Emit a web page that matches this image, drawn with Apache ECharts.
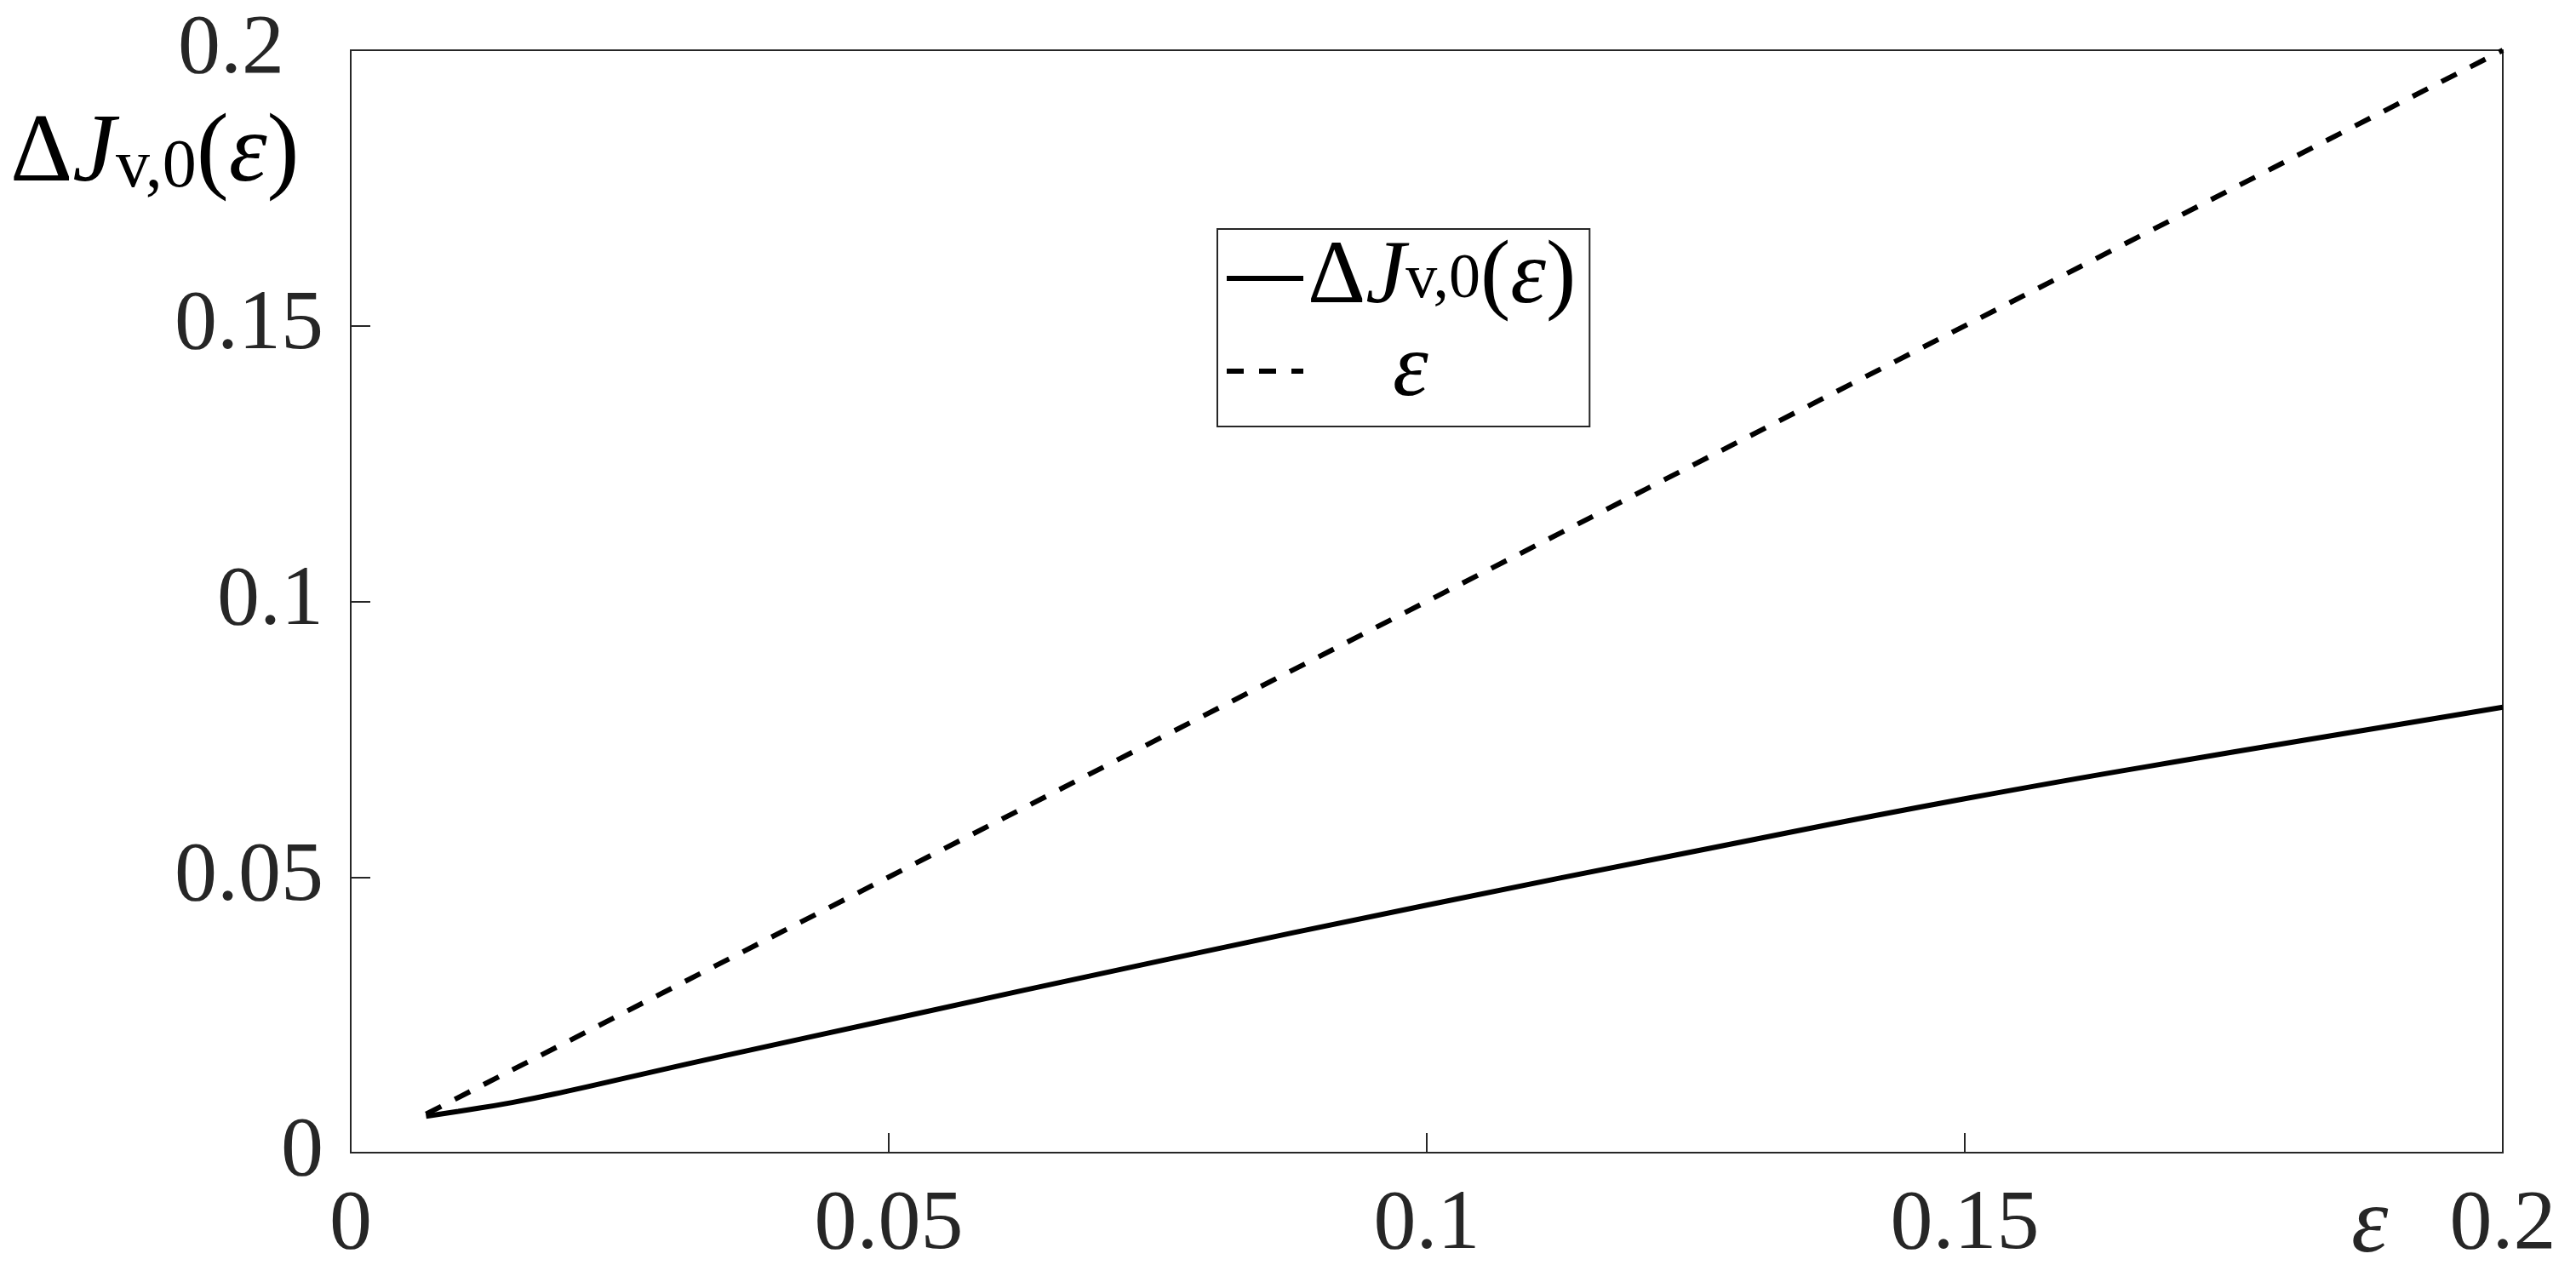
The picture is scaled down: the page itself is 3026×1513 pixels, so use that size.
<!DOCTYPE html>
<html>
<head>
<meta charset="utf-8">
<style>
  html, body { margin: 0; padding: 0; background: #fff; }
  #main { width: 3026px; height: 1513px; }
</style>
<script src="https://cdn.jsdelivr.net/npm/echarts@6/dist/echarts.min.js"></script>
</head>
<body>
<div id="main"></div>
<script>
// values
const epsValues = [0.007, 0.01, 0.015, 0.02, 0.027, 0.035, 0.05, 0.075, 0.1, 0.125, 0.15, 0.175, 0.2]
const deltaJValues = [0.0066, 0.0075, 0.0091, 0.0111, 0.0142, 0.0177, 0.0241, 0.0347, 0.0449, 0.0547, 0.0642, 0.0727, 0.0808]
const epsLineX = [0.007, 0.2]
const epsLineY = [0.007, 0.2]
const xTickLabels = ['0', '0.05', '0.1', '0.15', '0.2']
const yTickLabels = ['0', '0.05', '0.1', '0.15', '0.2']

const FONT = '"Liberation Serif", "Times New Roman", serif'
const AXIS_COLOR = '#262626'

const mainRich = (size, lh, subSize, subLh, epsPad) => ({
  d: { fontFamily: FONT, fontSize: size, lineHeight: lh, color: '#000' },
  j: { fontFamily: FONT, fontSize: size, lineHeight: lh, fontStyle: 'italic', color: '#000' },
  s: { fontFamily: FONT, fontSize: subSize, lineHeight: subLh, verticalAlign: 'bottom', color: '#000' },
  p: { fontFamily: FONT, fontSize: size, lineHeight: lh, color: '#000' },
  e2: { fontFamily: FONT, fontSize: size, lineHeight: lh, fontStyle: 'italic', color: '#000', padding: [0, 0, 0, epsPad] }
})
const dJText = '{d|Δ}{j|J}{s|v,0}{p|(}{j|ε}{p|)}'

const myChart = echarts.init(document.getElementById('main'))
myChart.setOption({
  animation: false,
  backgroundColor: '#fff',
  grid: {
    left: 412,
    right: 86,
    top: 59,
    bottom: 159,
    show: true,
    borderColor: AXIS_COLOR,
    borderWidth: 2,
    containLabel: false
  },
  legend: {
    left: 1430,
    top: 269,
    orient: 'vertical',
    selectedMode: false,
    itemWidth: 90,
    itemHeight: 20,
    itemGap: 3,
    padding: [5, 16, 12, 8],
    backgroundColor: '#fff',
    borderColor: AXIS_COLOR,
    borderWidth: 2,
    borderRadius: 0,
    itemStyle: { opacity: 0 },
    lineStyle: { width: 6 },
    data: ['ΔJv,0(ε)', 'ε'],
    formatter: function(name) {
      return name === 'ε' ? '{e2|ε}' : dJText
    },
    textStyle: {
      fontFamily: FONT,
      fontSize: 106,
      lineHeight: 80,
      color: '#000',
      rich: mainRich(106, 80, 74, 36, 100)
    }
  },
  xAxis: {
    type: 'value',
    min: 0,
    max: 0.2,
    interval: 0.05,
    axisLine: { show: true, lineStyle: { color: AXIS_COLOR, width: 2 } },
    axisTick: { show: true, inside: true, length: 23, lineStyle: { color: AXIS_COLOR, width: 2 } },
    splitLine: { show: false },
    axisLabel: {
      fontFamily: FONT,
      fontSize: 100,
      color: AXIS_COLOR,
      margin: 36,
      showMaxLabel: true,
      showMinLabel: true,
      formatter: function(v) {
        return xTickLabels[Math.round(v / 0.05)]
      }
    }
  },
  yAxis: {
    type: 'value',
    min: 0,
    max: 0.2,
    interval: 0.05,
    axisLine: { show: true, lineStyle: { color: AXIS_COLOR, width: 2 } },
    axisTick: { show: true, inside: true, length: 23, lineStyle: { color: AXIS_COLOR, width: 2 } },
    splitLine: { show: false },
    axisLabel: {
      fontFamily: FONT,
      fontSize: 100,
      color: AXIS_COLOR,
      margin: 32,
      showMaxLabel: true,
      showMinLabel: true,
      formatter: function(v) {
        const i = Math.round(v / 0.05)
        // top label sits further left in the original
        return i === 4 ? '{t|' + yTickLabels[i] + '}' : yTickLabels[i]
      },
      rich: {
        t: { fontFamily: FONT, fontSize: 100, color: AXIS_COLOR, padding: [0, 46, 0, 0] }
      }
    }
  },
  graphic: [
    {
      type: 'text',
      left: 12,
      top: 125,
      style: {
        text: dJText,
        rich: mainRich(114, 112, 80, 54, 0)
      }
    },
    {
      type: 'text',
      x: 2762,
      y: 1441,
      style: {
        text: 'ε',
        fontFamily: FONT,
        fontSize: 110,
        fontStyle: 'italic',
        fill: AXIS_COLOR,
        verticalAlign: 'middle'
      }
    }
  ],
  series: [
    {
      name: 'ΔJv,0(ε)',
      type: 'line',
      data: epsValues.map((x, i) => [x, deltaJValues[i]]),
      symbol: 'none',
      smooth: true,
      lineStyle: { color: '#000', width: 6 },
      itemStyle: { color: '#000' }
    },
    {
      name: 'ε',
      type: 'line',
      data: epsLineX.map((x, i) => [x, epsLineY[i]]),
      symbol: 'none',
      lineStyle: { color: '#000', width: 6, type: [20, 18] },
      itemStyle: { color: '#000' }
    }
  ]
})
</script>
</body>
</html>
